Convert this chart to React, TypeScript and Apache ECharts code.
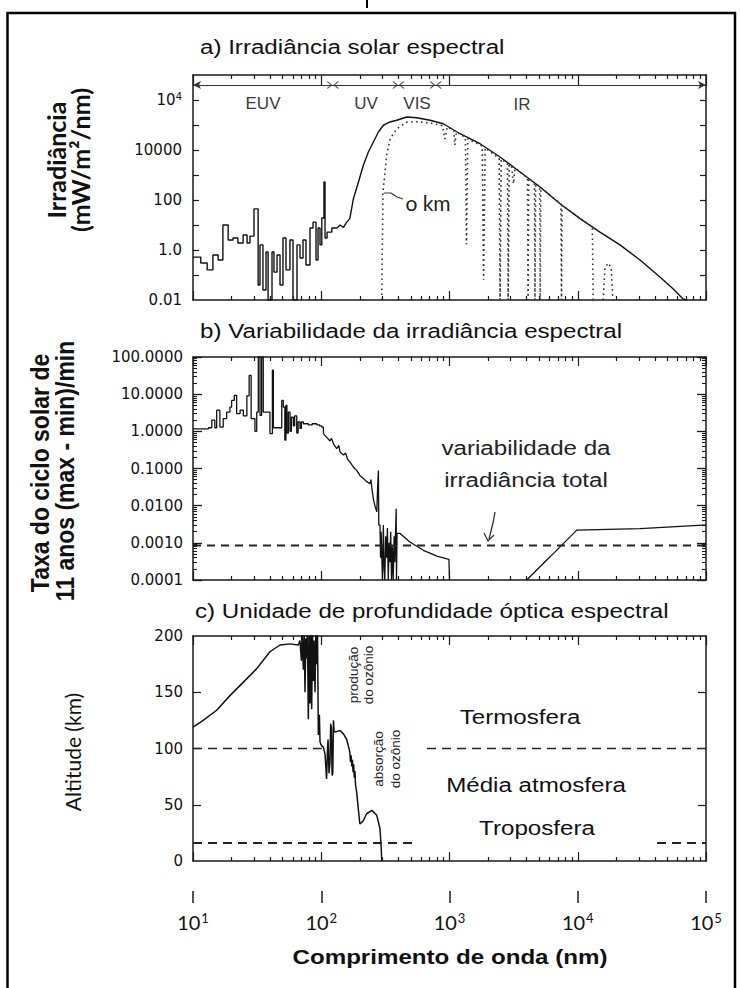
import React, { useEffect, useRef } from "react";
import * as echarts from "echarts";

// ---------------- data ----------------
const wavelengthMajor = [10, 100, 1000, 10000, 100000];
const wavelengthMinor = [
  20, 30, 40, 50, 60, 70, 80, 90,
  200, 300, 400, 500, 600, 700, 800, 900,
  2000, 3000, 4000, 5000, 6000, 7000, 8000, 9000,
  20000, 30000, 40000, 50000, 60000, 70000, 80000, 90000,
];

// panel a
const irradianceTicks = [0.1, 1, 10, 100, 1000, 10000, 100000, 1000000];
const irradianceLabelValues = [0.01, 1, 100, 10000, 1000000];
const irradianceLabelTexts = ["0.01", "1.0", "100", "10000", "{n|10}{s|4}"];
const bandBarLevel = 4000000;
const bandEdges = [123, 400, 780];

const irradianceEuv: [number, number][] = [
  [10, 0.52], [11.5, 0.3], [12.9, 0.16], [14.3, 0.63], [15.7, 0.4], [17.1, 10], [18.8, 2.5],
  [20.5, 3.0], [22.4, 1.9], [24.6, 4.0], [26.4, 1.9], [27.8, 3.6], [29.9, 44], [32.2, 0.04],
  [33.3, 1.6], [35.1, 0.025], [37.1, 0.83], [38.5, 0.01], [41.3, 0.83], [42.8, 0.13],
  [45.2, 0.63], [47.7, 0.04], [50.3, 3.0], [53.1, 0.16], [57.0, 2.5], [60.2, 0.01],
  [64.7, 1.6], [68.3, 0.48], [72.1, 2.5], [76.0, 0.25], [81.7, 7.6], [86.3, 13], [91.0, 0.4],
  [94.4, 7.6], [97.8, 1.6], [101, 19], [105, 525], [107, 3.0], [111, 5.2], [121, 7.6], [133, 7.6],
];
const irradianceSolar: [number, number][] = [
  [133, 7.6], [140, 10], [149, 8], [158, 13], [167, 18], [178, 112], [195, 525], [213, 2450],
  [233, 8300], [255, 21000], [279, 52500], [305, 97700], [344, 132000], [388, 155000],
  [464, 209000], [555, 195000], [705, 155000], [895, 112000], [1208, 44700], [1730, 17800],
  [2477, 5250], [3548, 1320], [5082, 331], [7278, 71], [10420, 18], [14900, 5.2],
  [21340, 1.6], [30550, 0.4], [43750, 0.083], [55300, 0.028], [66200, 0.011], [70000, 0.01],
];
const irradianceGround: [number, number][] = [
  [296, 0.01], [303, 209], [324, 6300], [344, 28000], [388, 70000], [464, 130000], [555, 135000],
  [705, 120000], [880, 95000], [923, 27500], [960, 85000], [1080, 60000], [1100, 15800],
  [1130, 52000], [1330, 32000], [1356, 1.7], [1390, 28000], [1800, 14000], [1845, 0.063],
  [1900, 12000], [2440, 4600], [2480, 0.01], [2530, 4300], [2830, 2900], [2870, 0.01],
  [2920, 2600], [3050, 2200], [3150, 450], [3250, 1900], [4050, 780], [4100, 0.01], [4150, 720],
  [4600, 480], [4640, 0.01], [4700, 460], [5050, 340], [5100, 0.01], [5150, 320], [7400, 68],
  [7470, 0.01], [7550, 62], [13000, 8.3], [13200, 0.01],
];
const irradianceGroundHump: [number, number][] = [
  [15800, 0.01], [16300, 0.2], [17300, 0.3], [18200, 0.2], [18800, 0.01],
];

// panel b
const variabilityMajor = [0.0001, 0.001, 0.01, 0.1, 1, 10, 100];
const variabilityMinor = [
  0.0002, 0.0003, 0.0004, 0.0005, 0.0006, 0.0007, 0.0008, 0.0009,
  0.002, 0.003, 0.004, 0.005, 0.006, 0.007, 0.008, 0.009,
  0.02, 0.03, 0.04, 0.05, 0.06, 0.07, 0.08, 0.09,
  0.2, 0.3, 0.4, 0.5, 0.6, 0.7, 0.8, 0.9,
  2, 3, 4, 5, 6, 7, 8, 9,
  20, 30, 40, 50, 60, 70, 80, 90,
];
const totalVariability = 0.00085;
const variabilityEuv: [number, number][] = [
  [10, 1.17], [13.2, 1.25], [14.0, 2.0], [14.8, 1.25], [15.3, 3.7], [16.2, 1.3], [17.2, 2.2],
  [18.3, 3.3], [19.4, 4.5], [20.0, 6.8], [21.0, 9.3], [21.9, 3.0], [23.3, 3.7], [24.7, 2.6],
  [26.3, 9], [27.4, 32], [28.4, 2.2], [30.4, 1.0], [31.4, 3.3], [32.3, 100], [33.3, 2.7],
  [34.3, 100], [35.3, 3.3], [38.5, 3.3], [39.8, 0.87], [41.6, 44], [42.3, 1.25], [48.0, 1.25],
  [49.2, 6.8], [50.6, 4.5], [52.0, 0.58], [53.0, 5.0], [54.0, 0.9], [55.4, 3.3], [57.1, 1.0],
  [58.5, 2.4], [60.6, 1.4], [62.0, 2.6], [64.4, 0.9], [66.0, 1.8], [68.3, 1.2], [70.0, 1.8],
  [72.5, 1.6], [79.3, 1.5], [85.0, 1.6], [92.2, 1.5], [97.0, 1.4], [101, 1.3], [104, 0.87],
];
const variabilityUv: [number, number][] = [
  [104, 0.87], [110, 0.7], [117, 0.55], [120, 0.65], [125, 0.45], [132, 0.34], [137, 0.42],
  [140, 0.28], [149, 0.23], [155, 0.26], [160, 0.18], [167, 0.15], [175, 0.12], [182, 0.1],
  [189, 0.089], [200, 0.065], [213, 0.054], [225, 0.045], [240, 0.039], [244, 0.05],
  [248, 0.03], [255, 0.015], [262, 0.01], [271, 0.0068], [275, 0.03], [279, 0.089],
  [281, 0.003], [287, 0.003], [290, 0.0004], [293, 0.002], [296, 0.00056], [300, 0.0001],
  [305, 0.003], [309, 0.0002], [313, 0.0001], [318, 0.0015], [323, 0.0004], [328, 0.0025],
  [333, 0.0001], [338, 0.001], [343, 0.0003], [348, 0.002], [353, 0.0001], [358, 0.0008],
  [364, 0.0001], [370, 0.0015], [375, 0.0003], [380, 0.0022], [384, 0.0083], [386, 0.0001],
  [390, 0.0018], [410, 0.0018], [491, 0.00105], [626, 0.00063], [798, 0.00044],
  [955, 0.00037], [990, 0.00036], [1000, 0.0001],
];
const variabilityIr: [number, number][] = [
  [4000, 0.0001], [6080, 0.00042], [9820, 0.0022], [30550, 0.0024], [94800, 0.003], [100000, 0.003],
];

// panel c
const altitudeLabels = [0, 50, 100, 150, 200];
const altitudeTicksLeft = [50, 100, 150];
const altitudeTicksRight = [50, 150];
const thermosphereBase = 100;
const troposphereTop = 16;
const thermoDashSpans: [number, number][] = [[10, 101], [668, 100000]];
const tropoDashSpans: [number, number][] = [[10, 558], [41500, 100000]];
const opticalDepthAltitude: [number, number][] = [
  [10, 119], [12.0, 125], [15.3, 134], [19.4, 147], [24.7, 159], [31.4, 171], [39.8, 186],
  [47.7, 192], [57.1, 193], [66.2, 192], [68.3, 196], [70, 178], [71, 204], [72.5, 170],
  [73.6, 204], [74.7, 150], [75.8, 198], [76.9, 180], [78, 204], [79.3, 126], [80.5, 200],
  [81.7, 140], [83, 204], [84.2, 135], [85.5, 204], [86.7, 160], [88, 196], [89.4, 150],
  [90.8, 204], [92.2, 175], [93.5, 204], [94.9, 112], [96.7, 130], [97.8, 106], [100, 103],
  [104, 101], [107, 95], [110, 73], [112, 100], [113, 108], [115, 78], [117, 88], [118.5, 122],
  [120, 118], [121.5, 76], [123, 78], [124.5, 125], [126, 115], [132, 115], [140, 116],
  [149, 113], [158, 108], [167, 97], [169, 88], [171, 94], [173, 84], [175, 90], [177, 79],
  [179, 86], [181, 74], [183, 80], [185, 68], [189, 61], [195, 45], [200, 33], [206, 34],
  [213, 36], [226, 42], [248, 45], [271, 40.6], [287, 28.7], [294, 10], [296, 0],
];

// ---------------- styling helpers ----------------
const AX = "#1a1a1a";
const INK = "#111";
const SANS = "Liberation Sans";
const CAL = "Lato";
const TICKFONT = "DejaVu Sans";

const logX = (gridIndex: number, position: string, ticks: number[], length: number, line: boolean) => ({
  type: "log", logBase: 10, min: 10, max: 100000, gridIndex, position,
  axisLine: { show: line, onZero: false, lineStyle: { color: AX, width: 1.5 } },
  axisTick: { show: true, inside: true, length, customValues: ticks, lineStyle: { color: AX, width: 1.2 } },
  axisLabel: { show: false },
  splitLine: { show: false },
  minorTick: { show: false },
});

const hiddenLabel = { show: false };
const tickLabel = (extra: any) => ({
  show: true, color: INK, fontFamily: TICKFONT, fontSize: 15, margin: 11, ...extra,
});

const txt = (text: string, x: number, y: number, o: any = {}) => ({
  type: "text", x, y, silent: true,
  scaleX: o.sx ?? 1, scaleY: o.sy ?? 1, rotation: o.rot ?? 0,
  style: {
    text, fill: o.color ?? INK, fontSize: o.size ?? 21, fontFamily: o.family ?? SANS,
    fontWeight: o.weight ?? "normal",
    align: o.align ?? "center", textAlign: o.align ?? "center",
    verticalAlign: "middle", textVerticalAlign: "middle",
  },
});

const lineSeries = (data: any, xi: number, yi: number, extra: any = {}) => ({
  type: "line", data, xAxisIndex: xi, yAxisIndex: yi, showSymbol: false, symbol: "none",
  silent: true, lineStyle: { color: INK, width: 1.3 }, ...extra,
});

export default function App() {
  const ref = useRef<HTMLDivElement>(null);

  useEffect(() => {
    if (!ref.current) return;
    const chart = echarts.init(ref.current, undefined, { renderer: "svg" });

    const xAxes: any[] = [];
    for (let g = 0; g < 3; g++) {
      xAxes.push(logX(g, "bottom", wavelengthMinor, 4, true));
      xAxes.push(logX(g, "bottom", wavelengthMajor, 9, false));
      xAxes.push(logX(g, "top", wavelengthMinor, 4, true));
      xAxes.push(logX(g, "top", wavelengthMajor, g === 0 ? 11 : 9, false));
    }
    // detached wavelength scale below panel c: tick marks, then labels
    xAxes.push({
      type: "log", logBase: 10, min: 10, max: 100000, gridIndex: 2, position: "bottom", offset: 30,
      axisLine: { show: false, onZero: false },
      axisTick: { show: true, inside: false, length: 12, customValues: wavelengthMajor, lineStyle: { color: AX, width: 1.5 } },
      axisLabel: { show: false },
      splitLine: { show: false },
    });
    xAxes.push({
      type: "log", logBase: 10, min: 10, max: 100000, gridIndex: 2, position: "bottom", offset: 50,
      axisLine: { show: false, onZero: false },
      axisTick: { show: false },
      axisLabel: {
        show: true, customValues: wavelengthMajor, margin: 0, color: INK,
        formatter: (v: number) => `{b|10}{s|${Math.round(Math.log10(v))}}`,
        rich: {
          b: { fontFamily: CAL, fontSize: 20, color: INK, lineHeight: 22 },
          s: { fontFamily: CAL, fontSize: 13, color: INK, verticalAlign: "top", lineHeight: 22, padding: [0, 0, 0, 1] },
        },
      },
      splitLine: { show: false },
    });

    const yLine = { show: true, onZero: false, lineStyle: { color: AX, width: 1.5 } };
    const yAxes: any[] = [
      // grid 0
      {
        type: "log", logBase: 10, min: 0.01, max: 10000000, gridIndex: 0, position: "left",
        axisLine: yLine,
        axisTick: { show: true, inside: true, length: 6, customValues: irradianceTicks, lineStyle: { color: AX, width: 1.2 } },
        axisLabel: tickLabel({
          customValues: irradianceLabelValues,
          formatter: (v: number) => {
            const e = Math.round(Math.log10(v));
            const i = irradianceLabelValues.findIndex((t) => Math.round(Math.log10(t)) === e);
            return i >= 0 ? irradianceLabelTexts[i] : "";
          },
          rich: {
            n: { fontFamily: TICKFONT, fontSize: 15, color: INK, lineHeight: 18 },
            s: { fontFamily: TICKFONT, fontSize: 10, color: INK, verticalAlign: "top", lineHeight: 18 },
          },
        }),
        splitLine: { show: false },
      },
      {
        type: "log", logBase: 10, min: 0.01, max: 10000000, gridIndex: 0, position: "right",
        axisLine: yLine,
        axisTick: { show: true, inside: true, length: 6, customValues: irradianceTicks, lineStyle: { color: AX, width: 1.2 } },
        axisLabel: hiddenLabel, splitLine: { show: false },
      },
      // grid 1
      {
        type: "log", logBase: 10, min: 0.0001, max: 100, gridIndex: 1, position: "left",
        axisLine: yLine,
        axisTick: { show: true, inside: true, length: 4, customValues: variabilityMinor, lineStyle: { color: AX, width: 1.1 } },
        axisLabel: hiddenLabel, splitLine: { show: false },
      },
      {
        type: "log", logBase: 10, min: 0.0001, max: 100, gridIndex: 1, position: "left",
        axisLine: { show: false, onZero: false },
        axisTick: { show: true, inside: true, length: 9, customValues: variabilityMajor, lineStyle: { color: AX, width: 1.3 } },
        axisLabel: tickLabel({
          customValues: variabilityMajor, margin: 10,
          formatter: (v: number) => v.toFixed(4),
        }),
        splitLine: { show: false },
      },
      {
        type: "log", logBase: 10, min: 0.0001, max: 100, gridIndex: 1, position: "right",
        axisLine: yLine,
        axisTick: { show: true, inside: true, length: 4, customValues: variabilityMinor, lineStyle: { color: AX, width: 1.1 } },
        axisLabel: hiddenLabel, splitLine: { show: false },
      },
      {
        type: "log", logBase: 10, min: 0.0001, max: 100, gridIndex: 1, position: "right",
        axisLine: { show: false, onZero: false },
        axisTick: { show: true, inside: true, length: 9, customValues: variabilityMajor, lineStyle: { color: AX, width: 1.3 } },
        axisLabel: hiddenLabel, splitLine: { show: false },
      },
      // grid 2
      {
        type: "value", min: 0, max: 200, gridIndex: 2, position: "left",
        axisLine: yLine,
        axisTick: { show: true, inside: true, length: 8, customValues: altitudeTicksLeft, lineStyle: { color: AX, width: 1.2 } },
        axisLabel: tickLabel({ customValues: altitudeLabels, margin: 10 }),
        splitLine: { show: false },
      },
      {
        type: "value", min: 0, max: 200, gridIndex: 2, position: "right",
        axisLine: yLine,
        axisTick: { show: true, inside: true, length: 8, customValues: altitudeTicksRight, lineStyle: { color: AX, width: 1.2 } },
        axisLabel: hiddenLabel, splitLine: { show: false },
      },
    ];

    const dashed = (span: [number, number], level: number, xi: number, yi: number, dash: number[], w: number) =>
      lineSeries([[span[0], level], [span[1], level]], xi, yi, { lineStyle: { color: "#222", width: w, type: dash } });

    const dotted = { color: "#333", width: 1.6, type: [1.6, 3.4] };

    const series: any[] = [
      // panel a
      lineSeries(irradianceEuv, 0, 0, { step: "end", lineStyle: { color: INK, width: 1.4 } }),
      lineSeries(irradianceSolar, 0, 0, { lineStyle: { color: INK, width: 1.4 } }),
      lineSeries(irradianceGround, 0, 0, { lineStyle: dotted }),
      lineSeries(irradianceGroundHump, 0, 0, { lineStyle: dotted }),
      {
        type: "line", xAxisIndex: 0, yAxisIndex: 0, data: [], silent: true,
        markLine: {
          silent: true, symbol: ["arrow", "arrow"], symbolSize: [6, 8], label: { show: false },
          lineStyle: { color: "#333", width: 1.2, type: "solid" },
          data: [[{ coord: [10, bandBarLevel] }, { coord: [100000, bandBarLevel] }]],
        },
      },
      {
        type: "scatter", xAxisIndex: 0, yAxisIndex: 0, silent: true,
        data: bandEdges.map((e) => [e, bandBarLevel]),
        symbol: "path://M0 0 L5 4 L0 8 M13 0 L8 4 L13 8", symbolSize: [11, 7],
        itemStyle: { color: "transparent", borderColor: "#333", borderWidth: 1.2 },
      },
      // panel b
      lineSeries(variabilityEuv, 4, 2, { step: "end" }),
      lineSeries(variabilityUv, 4, 2),
      lineSeries(variabilityIr, 4, 2),
      dashed([10, 100000], totalVariability, 4, 2, [8, 6], 2),
      // panel c
      lineSeries(opticalDepthAltitude, 8, 6, { lineStyle: { color: INK, width: 1.5 } }),
      ...thermoDashSpans.map((s) => dashed(s, thermosphereBase, 8, 6, [9, 6], 1.5)),
      ...tropoDashSpans.map((s) => dashed(s, troposphereTop, 8, 6, [9, 6], 1.8)),
    ];

    const R = Math.PI / 2;
    const graphic: any[] = [
      { type: "rect", silent: true, shape: { x: 7.5, y: 13, width: 727.5, height: 1000 }, style: { fill: "none", stroke: "#000", lineWidth: 2.5 } },
      { type: "line", silent: true, shape: { x1: 367, y1: 0, x2: 367, y2: 8 }, style: { stroke: "#000", lineWidth: 2 } },
      // titles
      txt("a) Irradiância solar espectral", 200, 47, { align: "left", sx: 1.15 }),
      txt("b) Variabilidade da irradiância espectral", 200, 331, { align: "left", sx: 1.15 }),
      txt("c) Unidade de profundidade óptica espectral", 195, 611, { align: "left", sx: 1.15 }),
      // axis titles
      txt("Irradiância", 56, 160, { family: CAL, weight: "bold", size: 25, rot: R }),
      txt("(mW/m²/nm)", 80, 160, { family: CAL, weight: "bold", size: 25, rot: R }),
      txt("Taxa do ciclo solar de", 40, 473, { weight: "bold", size: 23, rot: R, sy: 1.15 }),
      txt("11 anos (max - min)/min", 65, 471, { weight: "bold", size: 23, rot: R, sy: 1.15 }),
      txt("Altitude (km)", 72, 752, { family: CAL, size: 21, rot: R }),
      txt("Comprimento de onda (nm)", 450, 957, { weight: "bold", size: 21, sx: 1.15 }),
      // panel a annotations
      txt("EUV", 263, 103, { size: 17, color: "#3a3a3a" }),
      txt("UV", 366, 103, { size: 17, color: "#3a3a3a" }),
      txt("VIS", 417, 103, { size: 17, color: "#3a3a3a" }),
      txt("IR", 522, 104, { size: 17, color: "#3a3a3a" }),
      txt("o km", 428, 202, { family: CAL, size: 21, color: "#222" }),
      { type: "polyline", silent: true, shape: { points: [[384, 193], [391, 193], [397, 197], [403, 199]] }, style: { stroke: "#333", lineWidth: 1.2, fill: "none" } },
      // panel b annotations
      txt("variabilidade da", 526, 448, { sx: 1.15, color: "#222" }),
      txt("irradiância total", 526, 480, { sx: 1.15, color: "#222" }),
      { type: "polyline", silent: true, shape: { points: [[495, 512], [493, 523], [489, 539]] }, style: { stroke: "#333", lineWidth: 1.3, fill: "none" } },
      { type: "polyline", silent: true, shape: { points: [[484, 533], [488, 541], [494, 535]] }, style: { stroke: "#333", lineWidth: 1.3, fill: "none" } },
      // panel c annotations
      txt("produção", 353, 675, { size: 13.5, rot: R, color: "#222" }),
      txt("do ozônio", 368, 675, { size: 13.5, rot: R, color: "#222" }),
      txt("absorção", 378, 759, { size: 13.5, rot: R, color: "#222" }),
      txt("do ozônio", 395, 759, { size: 13.5, rot: R, color: "#222" }),
      txt("Termosfera", 520, 717, { sx: 1.15 }),
      txt("Média atmosfera", 536, 785, { sx: 1.15 }),
      txt("Troposfera", 537, 828, { sx: 1.15 }),
    ];

    chart.setOption({
      animation: false,
      backgroundColor: "#ffffff",
      textStyle: { fontFamily: SANS },
      grid: [
        { left: 193, top: 75, width: 513, height: 225, containLabel: false },
        { left: 193, top: 357, width: 513, height: 223, containLabel: false },
        { left: 193, top: 636, width: 513, height: 225, containLabel: false },
      ],
      xAxis: xAxes,
      yAxis: yAxes,
      series,
      graphic,
    });

    return () => chart.dispose();
  }, []);

  return (
    <div
      ref={ref}
      style={{ position: "fixed", left: 0, top: 0, width: 740, height: 988, background: "#fff" }}
    />
  );
}
